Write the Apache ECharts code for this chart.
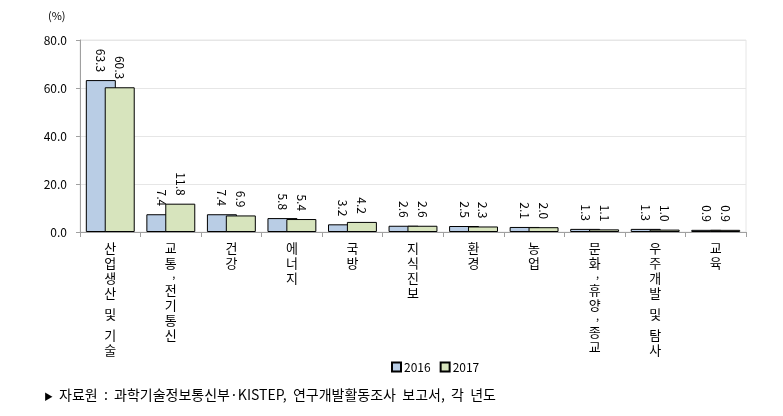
<!DOCTYPE html>
<html><head><meta charset="utf-8">
<script src="https://cdn.jsdelivr.net/npm/echarts@6/dist/echarts.min.js"></script>
<style>html,body{margin:0;padding:0;background:#fff}#c{width:783px;height:416px}</style>
</head><body><div id="c"></div>
<script>
const categories = ['산업생산 및 기술','교통, 전기통신','건강','에너지','국방','지식진보','환경','농업','문화, 휴양, 종교','우주개발 및 탐사','교육'];
const years = ['2016','2017'];
const values2016 = [63.3, 7.4, 7.4, 5.8, 3.2, 2.6, 2.5, 2.1, 1.3, 1.3, 0.9];
const values2017 = [60.3, 11.8, 6.9, 5.4, 4.2, 2.6, 2.3, 2.0, 1.1, 1.0, 0.9];
const yTicks = [0, 20, 40, 60, 80];

const FONT = '"Noto Sans CJK KR", "Noto Sans", sans-serif';
const chart = echarts.init(document.getElementById('c'));

function vertical(name){
  return name.split('').map(ch => {
    if (ch === ' ') return '{s| }';
    if (ch === ',') return '{m|,}';
    return '{c|' + ch + '}';
  }).join('\n');
}

const labelCfg = {
  show: true, position: 'top', rotate: -90, align: 'right', verticalAlign: 'middle',
  distance: 8, color: '#000', fontSize: 12, fontFamily: FONT,
  formatter: p => p.value.toFixed(1)
};

chart.setOption({
  animation: false,
  textStyle: {fontFamily: FONT},
  grid: {left: 80, right: 37, top: 40, bottom: 184, show: true, borderColor: '#e6e6e6', borderWidth: 1},
  legend: {
    data: years, bottom: 38, left: 386, itemWidth: 9, itemHeight: 9, itemGap: 9,
    textStyle: {fontSize: 12, color: '#000', fontFamily: FONT, padding: [0, 0, 0, -2]},
    icon: 'rect'
  },
  graphic: [
    {type: 'text', left: 48, top: 10, style: {text: '(%)', fill: '#000', font: '11px ' + FONT}},
    {type: 'text', left: 44, top: 392, style: {text: '▶', fill: '#000', font: '9px ' + FONT}},
    {type: 'text', left: 59, top: 388, style: {text: '자료원  :  과학기술정보통신부·KISTEP,  연구개발활동조사  보고서,  각  년도', fill: '#000', font: '14px ' + FONT}}
  ],
  xAxis: {
    type: 'category', data: categories,
    axisLine: {lineStyle: {color: '#a0a0a0'}},
    axisTick: {show: true, length: 5, lineStyle: {color: '#a0a0a0'}, alignWithLabel: false},
    axisLabel: {
      interval: 0, margin: 9, color: '#000', fontSize: 13, verticalAlign: 'top',
      formatter: v => vertical(v),
      rich: {
        c: {fontSize: 13, lineHeight: 15, fontFamily: FONT, color: '#000'},
        s: {fontSize: 9, lineHeight: 6, fontFamily: FONT, color: '#000'},
        m: {fontSize: 11, lineHeight: 6, fontFamily: FONT, color: '#000', padding: [0, 0, 0, 6]}
      }
    },
    splitLine: {show: false}
  },
  yAxis: {
    type: 'value', min: 0, max: 80, interval: 20,
    axisLine: {show: true, lineStyle: {color: '#a0a0a0'}},
    axisTick: {show: true, length: 4, lineStyle: {color: '#a0a0a0'}},
    axisLabel: {color: '#000', fontSize: 12, margin: 13, formatter: v => yTicks.includes(v) ? v.toFixed(1) : ''},
    splitLine: {lineStyle: {color: '#e6e6e6'}}
  },
  series: [
    {name: years[0], type: 'bar', data: values2016, barWidth: 30, barGap: '-37%',
     itemStyle: {color: '#b9cde5', borderColor: '#000', borderWidth: 1}, label: labelCfg},
    {name: years[1], type: 'bar', data: values2017, barWidth: 30,
     itemStyle: {color: '#d7e4bd', borderColor: '#000', borderWidth: 1}, label: labelCfg}
  ]
});
</script></body></html>
